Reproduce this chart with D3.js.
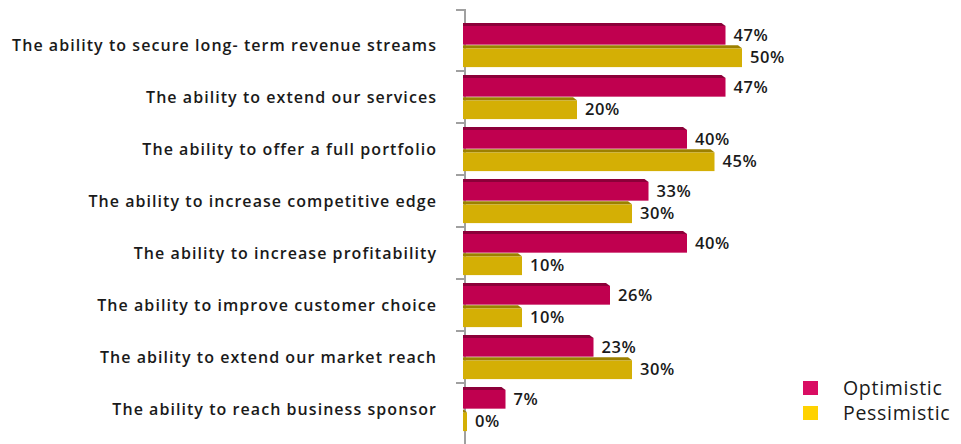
<!DOCTYPE html>
<html><head><meta charset="utf-8">
<script src="https://cdn.jsdelivr.net/npm/d3@7"></script>
<style>
html,body{margin:0;padding:0;background:#fff;}
svg{display:block;}
text{font-family:"Open Sans",sans-serif;fill:#1a1a1a;}
</style></head><body>
<svg id="c" width="961" height="444"></svg>
<script>
const categories = [
  "The ability to secure long- term revenue streams",
  "The ability to extend our services",
  "The ability to offer a full portfolio",
  "The ability to increase competitive edge",
  "The ability to increase profitability",
  "The ability to improve customer choice",
  "The ability to extend our market reach",
  "The ability to reach business sponsor"
];
const seriesNames = ["Optimistic", "Pessimistic"];
const optimistic = [47, 47, 40, 33, 40, 26, 23, 7];
const pessimistic = [50, 20, 45, 30, 10, 10, 30, 0];

const barColors = {Optimistic:"#c0004f", Pessimistic:"#d4af05"};
const topColors = {Optimistic:"#8c0039", Pessimistic:"#9c8000"};
const legendColors = {Optimistic:"#d90d63", Pessimistic:"#ffd200"};

const svg = d3.select("#c");
const depth = 4;
const x = d3.scaleLinear().domain([0, 50]).range([463, 738]);
const y = d3.scaleBand().domain(categories).range([19, 435]).paddingInner(0.15).paddingOuter(0.075);
const ys = d3.scaleBand().domain(seriesNames).range([0, y.bandwidth()]).paddingInner(0.03);

const data = categories.map((c, i) => ({cat: c, vals: [
  {s: "Optimistic", v: optimistic[i]},
  {s: "Pessimistic", v: pessimistic[i]}
]}));

// axis
const step = y.step();
const tickYs = [10].concat(categories.slice(1).map(c => y(c) - y.paddingInner()*step/2));
svg.append("line").attr("x1", 465).attr("x2", 465).attr("y1", 10).attr("y2", 444)
  .attr("stroke", "#a0a0a0").attr("stroke-width", 2);
svg.selectAll("line.tick").data(tickYs).join("line").attr("class","tick")
  .attr("x1", 456).attr("x2", 466).attr("y1", d => d).attr("y2", d => d)
  .attr("stroke", "#a0a0a0").attr("stroke-width", 2);

// bars
const g = svg.selectAll("g.cat").data(data).join("g").attr("class","cat")
  .attr("transform", d => `translate(0,${y(d.cat)})`);
const bar = g.selectAll("g.bar").data(d => d.vals).join("g").attr("class","bar");
bar.append("rect")
  .attr("x", x(0)).attr("y", d => ys(d.s) + 3)
  .attr("width", d => x(d.v) - x(0) + depth)
  .attr("height", ys.bandwidth() - 3)
  .attr("fill", d => barColors[d.s]);
bar.append("path")
  .attr("d", d => {
    const x0 = x(0), x1 = x(d.v) + depth, y0 = ys(d.s);
    return `M${x0},${y0} L${Math.max(x0, x1 - 4)},${y0} L${x1},${y0 + 3} L${x0},${y0 + 3}Z`;
  })
  .attr("fill", d => topColors[d.s]);
bar.append("text")
  .attr("x", d => x(d.v) + depth + 8)
  .attr("y", d => ys(d.s) + ys.bandwidth()/2 + 1)
  .attr("dy", "0.35em")
  .style("font-size", "16.5px").style("font-weight", 600).style("letter-spacing", "0.6px")
  .text(d => d.v + "%");

// category labels
svg.selectAll("text.cat").data(categories).join("text").attr("class","cat")
  .attr("x", 437).attr("y", d => y(d) + y.bandwidth()/2)
  .attr("dy", "0.35em").attr("text-anchor", "end")
  .style("font-size", "16px").style("font-weight", 600).style("letter-spacing", "1.05px")
  .text(d => d);

// legend
const lg = svg.selectAll("g.leg").data(seriesNames).join("g").attr("class","leg")
  .attr("transform", (d, i) => `translate(803,${381 + i*25})`);
lg.append("rect").attr("width", 15).attr("height", 14).attr("fill", d => legendColors[d]);
lg.append("text").attr("x", 40).attr("y", 7).attr("dy", "0.35em")
  .style("font-size", "19.5px").style("font-weight", 400).style("letter-spacing", "0.7px").text(d => d);
</script>
</body></html>
